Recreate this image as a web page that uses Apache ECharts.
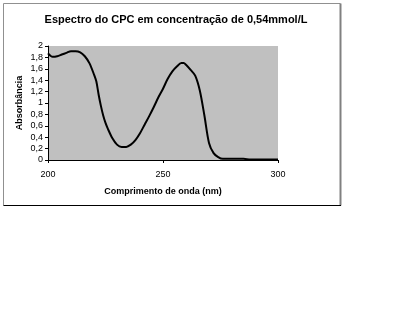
<!DOCTYPE html>
<html><head><meta charset="utf-8">
<script src="https://cdn.jsdelivr.net/npm/echarts@6/dist/echarts.min.js"></script>
<style>html,body{margin:0;padding:0;background:#fff}#c{width:420px;height:315px}</style>
</head><body><div id="c"></div>
<script>
var wavelengths = [200,202,204,206,208,210,212,214,216,218,220,221,222,223,224,225,226,228,230,232,234,236,238,240,242,244,246,248,250,252,254,256,258,259,260,262,264,266,268,270,272,274,276,280,285,288,290,295,300];
var absorbance = [1.87,1.81,1.82,1.85,1.88,1.91,1.91,1.89,1.82,1.70,1.50,1.38,1.15,0.95,0.78,0.65,0.55,0.38,0.27,0.23,0.23,0.27,0.35,0.47,0.62,0.77,0.93,1.10,1.25,1.42,1.55,1.64,1.70,1.70,1.67,1.58,1.48,1.22,0.78,0.30,0.12,0.05,0.02,0.02,0.02,0.01,0.01,0.01,0.01];
var titleText = 'Espectro do CPC em concentração de 0,54mmol/L';
var xName = 'Comprimento de onda (nm)';
var yName = 'Absorbância';

var pts = wavelengths.map(function(w,i){return [w, absorbance[i]];});
var chart = echarts.init(document.getElementById('c'), null, {renderer:'canvas'});
var font = 'Liberation Sans, Arial, sans-serif';
chart.setOption({
  animation:false,
  backgroundColor:'#fff',
  title:{text:titleText, left:171, textAlign:'center', top:9,
    textStyle:{fontFamily:font, fontSize:11, fontWeight:'bold', color:'#000'}},
  grid:{left:48, right:142, top:46, bottom:155, show:true, backgroundColor:'#c0c0c0', borderWidth:0},
  xAxis:{type:'value', min:200, max:300, interval:50,
    name:xName, nameLocation:'middle', nameGap:27,
    nameTextStyle:{fontFamily:font, fontSize:9, fontWeight:'bold', color:'#000'},
    axisLine:{lineStyle:{color:'#000', width:1}},
    axisTick:{show:true, length:3, lineStyle:{color:'#000'}},
    axisLabel:{fontFamily:font, fontSize:9, color:'#000', margin:10},
    splitLine:{show:false}},
  yAxis:{type:'value', min:0, max:2, interval:0.2,
    name:yName, nameLocation:'middle', nameGap:24, nameRotate:90, nameMoveOverlap:false,
    nameTextStyle:{fontFamily:font, fontSize:9, fontWeight:'bold', color:'#000'},
    axisLine:{show:true, lineStyle:{color:'#000', width:1}},
    axisTick:{show:true, length:3, lineStyle:{color:'#000'}},
    axisLabel:{fontFamily:font, fontSize:9, color:'#000', margin:5,
      formatter:function(v){return String(Math.round(v*10)/10).replace('.', ',');}},
    splitLine:{show:false}},
  series:[{type:'line', data:pts, smooth:0.3, showSymbol:false,
    lineStyle:{color:'#000', width:2}}],
  graphic:[
    {type:'line', shape:{x1:3.5,y1:3.5,x2:340.5,y2:3.5}, style:{stroke:'#909090', lineWidth:1}},
    {type:'line', shape:{x1:3.5,y1:3.5,x2:3.5,y2:205.5}, style:{stroke:'#909090', lineWidth:1}},
    {type:'line', shape:{x1:340.5,y1:3.5,x2:340.5,y2:205.5}, style:{stroke:'#808080', lineWidth:2}},
    {type:'line', shape:{x1:3.5,y1:205.5,x2:341,y2:205.5}, style:{stroke:'#000', lineWidth:1}}
  ]
});
</script></body></html>
